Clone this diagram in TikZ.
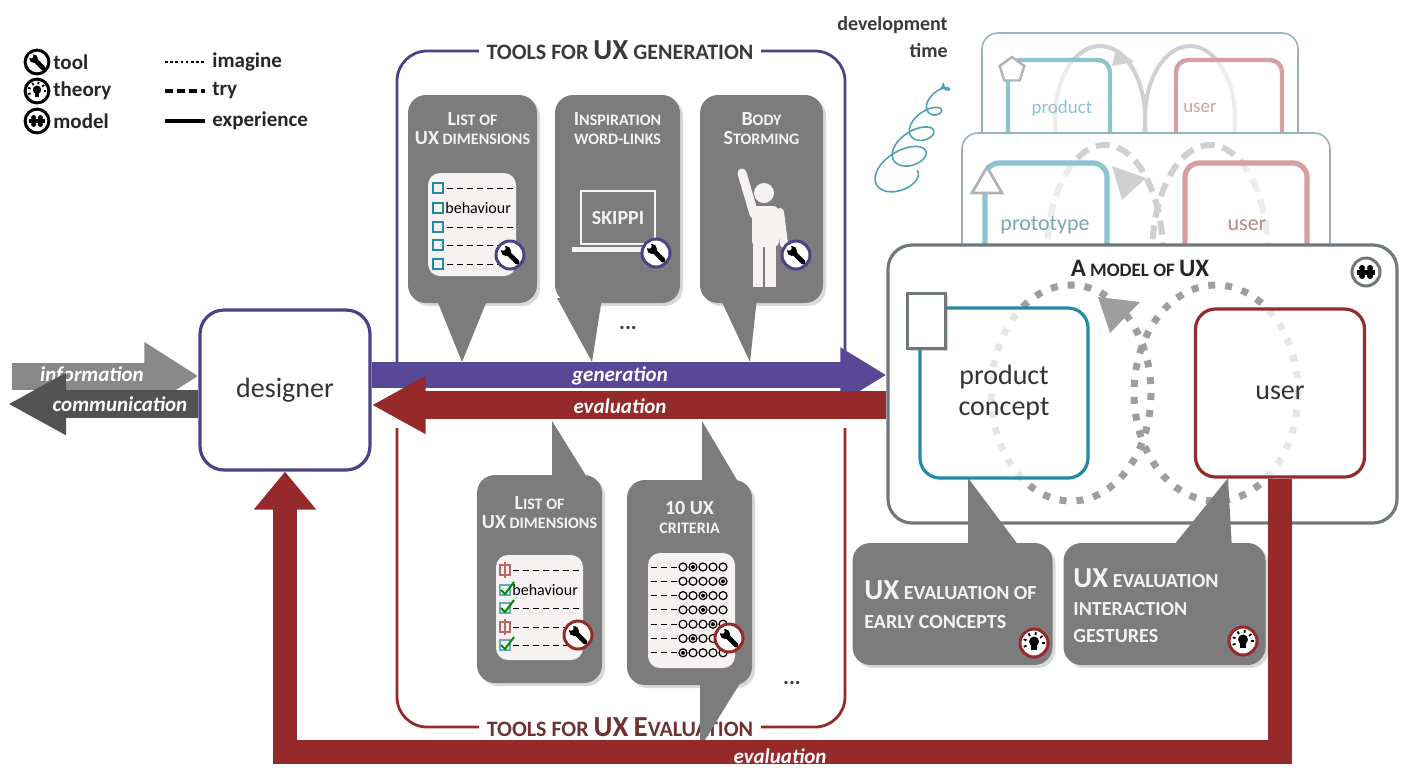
\documentclass[tikz,border=0pt]{standalone}
\usepackage{fontspec}
\setmainfont{Carlito}
\usetikzlibrary{arrows.meta,shadows}

\definecolor{uxpurple}{RGB}{78,66,135}
\definecolor{genpurple}{RGB}{88,72,150}
\definecolor{uxred}{RGB}{150,42,42}
\definecolor{uxgray}{RGB}{124,124,124}
\definecolor{uxteal}{RGB}{36,138,162}
\definecolor{uxframe}{RGB}{112,120,124}
\definecolor{uxtext}{RGB}{58,58,62}
\definecolor{evaltext}{RGB}{110,50,50}
\definecolor{uxwhite}{RGB}{247,242,242}
\definecolor{loopgray}{RGB}{158,158,158}
\definecolor{infogray}{RGB}{136,136,136}
\definecolor{commgray}{RGB}{82,82,82}
\definecolor{paleteal}{RGB}{140,196,210}
\definecolor{palered}{RGB}{214,160,160}
\definecolor{paleframe}{RGB}{150,180,190}
\definecolor{paleloop}{RGB}{208,208,208}

% bigger capitals inside the small-caps titles
\newcommand\bigc[1]{{\fontsize{10}{10}\selectfont #1}}
\newcommand\biggc[1]{{\fontsize{12.5}{12.5}\selectfont #1}}
\newcommand\hugec[1]{{\fontsize{14.5}{14.5}\selectfont #1}}

\tikzset{
  bubble/.style={fill=uxgray, rounded corners=9pt, inner sep=0pt,
    drop shadow={shadow xshift=1.5pt, shadow yshift=-1.5pt, opacity=.3}},
  bubbletitle/.style={text=uxwhite, font=\bfseries\fontsize{8}{9.5}\selectfont,
    align=center, inner sep=0pt},
  card/.style={fill=uxwhite, rounded corners=6pt},
  bigbox/.style={draw, line width=1.6pt, fill=white, rounded corners=10pt,
    font=\fontsize{14}{15.5}\selectfont, text=black!80, align=center},
  legend/.style={font=\bfseries\fontsize{10.5}{12}\selectfont, text=black!85,
    inner sep=0pt, anchor=west},
  arrowlabel/.style={text=white, font=\bfseries\itshape\fontsize{10.5}{12}\selectfont,
    inner sep=0pt},
  pics/toolicon/.style={code={
    \draw[line width=1.5pt, draw=#1, fill=white] (0,0) circle (14);
    \draw[line width=2.4pt, line cap=round] (-2,-2) -- (7,7);
    \fill (-4,-4) circle (5);
    \fill[white] (-7,-7) circle (2.7);
  }},
  pics/theoryicon/.style={code={
    \draw[line width=1.5pt, draw=#1, fill=white] (0,0) circle (14);
    \fill (0,-1.5) circle (5);
    \fill (-2.8,2) rectangle (2.8,7);
    \foreach \a in {160,200,...,380}
      \draw[line width=.9pt] (\a:8) -- (\a:11);
  }},
  pics/modelicon/.style={code={
    \draw[line width=1.5pt, draw=#1, fill=white] (0,0) circle (14);
    \fill (-9,-2.5) rectangle (9,2.5);
    \foreach \px in {-4,4}
      \foreach \py in {-4,4}
        \fill (\px,\py) circle (3);
  }},
}

\begin{document}
\begin{tikzpicture}[x=0.5pt, y=-0.5pt]
\useasboundingbox (0,0) rectangle (1412,767);

% legend
\pic[scale=.85] at (37,62) {toolicon=black};
\pic[scale=.85] at (37,91) {theoryicon=black};
\pic[scale=.85] at (37,121) {modelicon=black};
\node[legend] (legtool) at (53,62) {tool};
\node[legend] (legtheory) at (53,91) {theory};
\node[legend] (legmodel) at (53,121) {model};
\draw[line width=1.3pt, dash pattern=on 1.3pt off 1.3pt] (165,62) -- (205,62);
\draw[line width=1.6pt, dash pattern=on 4pt off 2pt] (165,91) -- (205,91);
\draw[line width=1.6pt] (165,121) -- (205,121);
\node[legend] (legimagine) at (212,62) {imagine};
\node[legend] (legtry) at (212,91) {try};
\node[legend] (legexp) at (212,121) {experience};

% development time
\node[align=right, anchor=north east, inner sep=0pt, text=uxtext,
  font=\bfseries\fontsize{10}{13.5}\selectfont] (devtime) at (948,16) {development\\time};
% coil, loops shrinking towards the tip
\draw[uxteal!80, line width=.8pt, -{Stealth[length=4pt]}]
  plot[domain=0:1, samples=300, smooth]
  ({892+56*\x+(28-23*\x)*0.9*cos(1620*\x)+(16-12*\x)*0.42*sin(1620*\x)},
   {182-102*\x-(28-23*\x)*0.42*cos(1620*\x)+(16-12*\x)*0.9*sin(1620*\x)});

% product layer
\draw[paleframe, line width=.8pt, fill=white, rounded corners=8pt] (982,33) rectangle (1298,170);
\draw[paleloop, line width=2pt] (1100,118) ellipse [x radius=45, y radius=72];
\draw[paleloop, line width=2pt] (1190,118) ellipse [x radius=45, y radius=72];
\fill[paleloop] (1116,48) -- (1134,62) -- (1112,66) -- cycle;
\draw[paleteal, line width=2.2pt, fill=white, fill opacity=.6, rounded corners=6pt] (1008,60) rectangle (1110,190);
\draw[palered, line width=2.2pt, fill=white, fill opacity=.6, rounded corners=6pt] (1176,60) rectangle (1282,190);
\draw[gray!60, line width=1.2pt, fill=white] (1012,70) +(270:13) -- +(342:13) -- +(54:13) -- +(126:13) -- +(198:13) -- cycle;
\node[text=paleteal, font=\fontsize{9.5}{11}\selectfont] (prodtext) at (1062,108) {product};
\node[text=palered, font=\fontsize{9.5}{11}\selectfont] (produser) at (1200,108) {user};

% prototype layer
\draw[paleframe, line width=.8pt, fill=white, rounded corners=8pt] (962,133) rectangle (1330,280);
\draw[paleloop, line width=3pt, dash pattern=on 7pt off 4pt] (1105,255) ellipse [x radius=58, y radius=110];
\draw[paleloop, line width=3pt, dash pattern=on 7pt off 4pt] (1210,255) ellipse [x radius=58, y radius=110];
\fill[paleloop] (1112,166) -- (1146,178) -- (1122,200) -- cycle;
\draw[paleteal, line width=2.6pt, fill=white, fill opacity=.6, rounded corners=7pt] (985,163) rectangle (1107,290);
\draw[palered, line width=2.6pt, fill=white, fill opacity=.6, rounded corners=7pt] (1185,163) rectangle (1307,290);
\draw[gray!60, line width=1.4pt, fill=white] (972,193) -- (1002,193) -- (987,167) -- cycle;
\node[text=paleteal!85!black, font=\fontsize{11}{12}\selectfont] (prototext) at (1045,225) {prototype};
\node[text=palered!85!black, font=\fontsize{11}{12}\selectfont] (protouser) at (1247,225) {user};

% model of UX
\node[draw=uxframe, line width=1.6pt, fill=white, rounded corners=12pt,
  minimum width=254.5pt, minimum height=139pt, inner sep=0pt] (model) at (1142.5,384) {};
\draw[loopgray, line width=3.5pt, dash pattern=on 3.5pt off 5pt] (1071,393) ellipse [x radius=80, y radius=108];
\draw[loopgray, line width=3.5pt, dash pattern=on 3.5pt off 5pt] (1216,393) ellipse [x radius=82, y radius=108];
\fill[loopgray] (1098,297) -- (1140,302) -- (1110,333) -- cycle;
\node[bigbox, draw=uxteal, fill opacity=.75, text opacity=1,
  minimum width=84pt, minimum height=85pt] (product) at (1004,393) {product\\concept};
\node[bigbox, draw=uxred, fill opacity=.75, text opacity=1,
  minimum width=84.5pt, minimum height=84pt] (user) at (1280,393) {user};
\draw[uxframe, line width=1.5pt, fill=white,
  drop shadow={shadow xshift=1.5pt, shadow yshift=-1.5pt, opacity=.3}] (907,293) rectangle (945,348);
\node[font=\bfseries\fontsize{9.5}{11}\selectfont, text=black!85] (modeltitle) at (1140,268)
  {\biggc{A} MODEL OF \biggc{UX}};
\pic at (1366,272) {modelicon=uxframe};

% tools for UX generation
\draw[uxpurple, line width=1.4pt, rounded corners=15pt] (397,362) -- (397,51) -- (845,51) -- (845,362);
\node[fill=white, inner xsep=4pt, font=\bfseries\fontsize{11}{12}\selectfont, text=uxtext]
  (gentitle) at (620,50) {TOOLS FOR \hugec{UX} GENERATION};

\fill[uxgray] (436,298) -- (462,362) -- (488,298) -- cycle;
\fill[uxgray] (557,298) -- (592,362) -- (602,298) -- cycle;
\fill[uxgray] (720,298) -- (750,362) -- (757,298) -- cycle;
\node[bubble, minimum width=64.5pt, minimum height=104pt] (genlist) at (472.5,199) {};
\node[bubble, minimum width=62.5pt, minimum height=104pt] (genlinks) at (617.5,199) {};
\node[bubble, minimum width=61.5pt, minimum height=104pt] (genbody) at (761.5,199) {};
\node[bubbletitle] (genlisttitle) at (472.5,129) {\bigc{L}IST OF\\\bigc{UX} DIMENSIONS};
\node[bubbletitle] (genlinkstitle) at (617.5,129) {\bigc{I}NSPIRATION\\WORD-LINKS};
\node[bubbletitle] (genbodytitle) at (761.5,129) {\bigc{B}ODY\\\bigc{S}TORMING};

% list of dimensions card
\fill[card] (428,173) rectangle (516,276);
\foreach \y in {188,227,245,264}
  \draw[densely dashed, line width=.5pt] (447,\y) -- (513,\y);
\foreach \y in {188,208,227,245,264}
  \draw[uxteal, line width=.6pt] (433,\y-5) rectangle (443,\y+5);
\node[anchor=west, inner sep=0pt, font=\fontsize{8}{9}\selectfont] (beh1) at (445,208) {behaviour};
\pic at (510,255) {toolicon=uxpurple};

% laptop
\draw[uxwhite, line width=1.3pt] (581,191) rectangle (655,244);
\fill[uxwhite] (572,247) rectangle (660,252);
\node[text=uxwhite, font=\bfseries\fontsize{10}{12}\selectfont] (skippi) at (618,218) {SKIPPI};
\pic at (656,253) {toolicon=uxpurple};

% body storming figure
\fill[uxwhite] (764,193) circle (10);
\fill[uxwhite, rounded corners=3pt] (752,206) rectangle (779,247);
\draw[uxwhite, line width=4.5pt, line cap=round] (754,214) -- (742,173);
\draw[uxwhite, line width=4pt, line cap=round] (780,212) -- (784,244);
\fill[uxwhite] (753,245) rectangle (763,287);
\fill[uxwhite] (765,245) rectangle (776,287);
\pic at (796,255) {toolicon=uxpurple};

\node[font=\bfseries\fontsize{11}{11}\selectfont, text=uxtext] (gendots) at (628,328) {...};

% tools for UX evaluation
\draw[uxred, line width=1.4pt, rounded corners=15pt] (397,428) -- (397,727) -- (845,727) -- (845,428);
\node[fill=white, inner xsep=4pt, font=\bfseries\fontsize{11}{12}\selectfont, text=evaltext]
  (evaltitle) at (620,727) {TOOLS FOR \hugec{UX} \hugec{E}VALUATION};

\fill[uxgray] (552,482) -- (552,421) -- (590,482) -- cycle;
\fill[uxgray] (702,485) -- (702,421) -- (740,485) -- cycle;
\fill[uxgray] (700,680) -- (742,680) -- (700,748) -- cycle;
\node[bubble, minimum width=62.5pt, minimum height=104pt] (evallist) at (539.5,579) {};
\node[bubble, minimum width=62.5pt, minimum height=102.5pt] (evalcrit) at (689.5,582.5) {};
\node[bubbletitle] (evallisttitle) at (539.5,513) {\bigc{L}IST OF\\\bigc{UX} DIMENSIONS};
\node[bubbletitle] (evalcrittitle) at (689.5,517) {\bigc{10 UX}\\CRITERIA};

% checked list card
\fill[card] (496,555) rectangle (583,660);
\foreach \y in {570,608,627,645}
  \draw[densely dashed, line width=.5pt] (513,\y) -- (580,\y);
\foreach \y/\c in {570/uxred,590/uxteal,608/uxteal,627/uxred,645/uxteal}
  \draw[\c!70, line width=.6pt] (500,\y-5) rectangle (510,\y+5);
\foreach \y in {570,627}
  \draw[uxred!70, line width=.8pt] (505,\y-8) -- (505,\y+8);
\foreach \y in {590,608,645}
  \draw[green!55!black, line width=1pt] (501,\y) -- (505,\y+4) -- (514,\y-8);
\node[anchor=west, inner sep=0pt, font=\fontsize{8}{9}\selectfont] (beh2) at (512,590) {behaviour};
\pic at (578,635) {toolicon=uxred};

% criteria card
\fill[card] (648,553) rectangle (735,668);
\foreach \r/\m in {0/2,1/5,2/3,3/3,4/4,5/2,6/1} {
  \draw[densely dashed, line width=.5pt] (651,567+14.3*\r) -- (678,567+14.3*\r);
  \foreach \c in {1,...,5}
    \draw[line width=.6pt] (673+10*\c,567+14.3*\r) circle (4);
  \fill (673+10*\m,567+14.3*\r) circle (2);
}
\pic at (729,638) {toolicon=uxred};

\node[font=\bfseries\fontsize{11}{11}\selectfont, text=uxtext] (evaldots) at (792,683) {...};

% theory bubbles under the model
\fill[uxgray] (968,478) -- (968,550) -- (1022,550) -- cycle;
\fill[uxgray] (1228,478) -- (1170,550) -- (1232,550) -- cycle;
\node[bubble, minimum width=100pt, minimum height=61pt] (theoryearly) at (952.5,604) {};
\node[bubble, minimum width=101pt, minimum height=61pt] (theorygest) at (1164.5,604) {};
\node[anchor=west, align=left, inner sep=0pt, text=uxwhite,
  font=\bfseries\fontsize{10}{14.5}\selectfont] (earlytext) at (864,605)
  {\hugec{UX} EVALUATION OF\\EARLY CONCEPTS};
\node[anchor=west, align=left, inner sep=0pt, text=uxwhite,
  font=\bfseries\fontsize{10}{13.8}\selectfont] (gesttext) at (1073,606)
  {\hugec{UX} EVALUATION\\INTERACTION\\GESTURES};
\pic at (1034,643) {theoryicon=uxred};
\pic at (1243,641) {theoryicon=uxred};

% designer
\node[bigbox, draw=uxpurple, rounded corners=12pt,
  minimum width=85pt, minimum height=80pt] (designer) at (285,390) {designer};

% evaluation loop back to the designer
\draw[uxred, line width=12pt, -{Triangle[length=19pt, width=30pt]}]
  (user.south) -- (user.south |- 0,752) -| (designer.south);
\node[arrowlabel] (looplabel) at (780,756) {evaluation};

% information in, communication out
\coordinate (infostart) at (12,376);
\coordinate (commend) at (8,404);
\draw[infogray, line width=13.5pt, -{Triangle[length=27pt, width=32pt]}]
  (infostart) -- (designer.west |- 0,376);
\node[arrowlabel] (infolabel) at (92,375) {information};
\draw[commgray, line width=14pt, -{Triangle[length=29pt, width=29pt]}]
  (designer.west |- 0,404) -- (commend);
\node[arrowlabel] (commlabel) at (120,404) {communication};

% generation and evaluation
\draw[genpurple, line width=13pt, -{Triangle[length=23pt, width=26pt]}]
  (designer.east |- 0,375) -- (model.west |- 0,375);
\node[arrowlabel] (genlabel) at (620,376) {generation};
\draw[uxred, line width=14pt, -{Triangle[length=27pt, width=27pt]}]
  (model.west |- 0,405) -- (designer.east |- 0,405);
\node[arrowlabel] (evallabel) at (620,406) {evaluation};

\end{tikzpicture}
\end{document}
